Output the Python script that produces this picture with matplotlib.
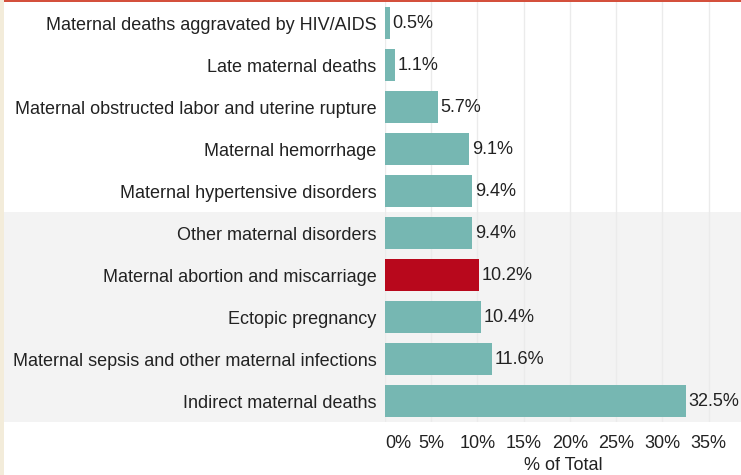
"""
Maternal disorders breakdown, % of total.
"""

import matplotlib
matplotlib.use("Agg")

import matplotlib.pyplot as plt
from matplotlib.patches import Rectangle

causes = [
    "Maternal deaths aggravated by HIV/AIDS",
    "Late maternal deaths",
    "Maternal obstructed labor and uterine rupture",
    "Maternal hemorrhage",
    "Maternal hypertensive disorders",
    "Other maternal disorders",
    "Maternal abortion and miscarriage",
    "Ectopic pregnancy",
    "Maternal sepsis and other maternal infections",
    "Indirect maternal deaths",
]
share = [0.5, 1.1, 5.7, 9.1, 9.4, 9.4, 10.2, 10.4, 11.6, 32.5]
highlight = "Maternal abortion and miscarriage"
x_ticks = [0, 5, 10, 15, 20, 25, 30, 35]

plt.rcParams["font.family"] = ["Liberation Sans", "DejaVu Sans"]

teal = "#76b7b2"
red = "#b8081c"
fs = 13

fig = plt.figure(figsize=(7.41, 4.75), dpi=100)
ax = fig.add_axes([385 / 741, 53 / 475, 356 / 741, 420 / 475])

n = len(causes)
ypos = list(range(n))
colors = [red if c == highlight else teal for c in causes]

# shaded band behind the lower half of the rows (spans label area too)
ax.add_patch(Rectangle((-42.0, 4.5), 42.0 + 40, 5.0, facecolor="#f3f3f3",
                       edgecolor="none", zorder=0, clip_on=False))

for t in x_ticks:
    ax.axvline(t, color="#ebebeb", linewidth=1, zorder=1)

ax.barh(ypos, share, height=0.76, color=colors, zorder=2)
for y, v in zip(ypos, share):
    ax.text(v + 0.3, y, f"{v:.1f}%", va="center", ha="left", fontsize=fs, color="#222222")

ax.set_xlim(0, 38.5)
ax.set_ylim(n - 0.5, -0.5)
ax.set_yticks(ypos)
ax.set_yticklabels(causes, fontsize=fs, color="#222222")
ax.set_xticks(x_ticks)
ax.set_xticklabels([f"{t}%" for t in x_ticks], fontsize=fs, color="#222222")
ax.get_xticklabels()[0].set_horizontalalignment("left")
ax.tick_params(axis="both", length=0)
ax.tick_params(axis="y", pad=6)
ax.tick_params(axis="x", pad=9)
ax.set_xlabel("% of Total", fontsize=fs, color="#222222", labelpad=4)
for s in ax.spines.values():
    s.set_visible(False)
ax.set_facecolor("none")

# frame decorations: cream strip on the left, red rule at the top
fig.patches.append(Rectangle((0, 0), 4 / 741, 1, transform=fig.transFigure,
                             facecolor="#f3ecda", edgecolor="none"))
fig.patches.append(Rectangle((4 / 741, 1 - 2 / 475), 1, 2 / 475, transform=fig.transFigure,
                             facecolor="#d4503c", edgecolor="none"))

fig.savefig("out.png", dpi=100)
plt.close(fig)
